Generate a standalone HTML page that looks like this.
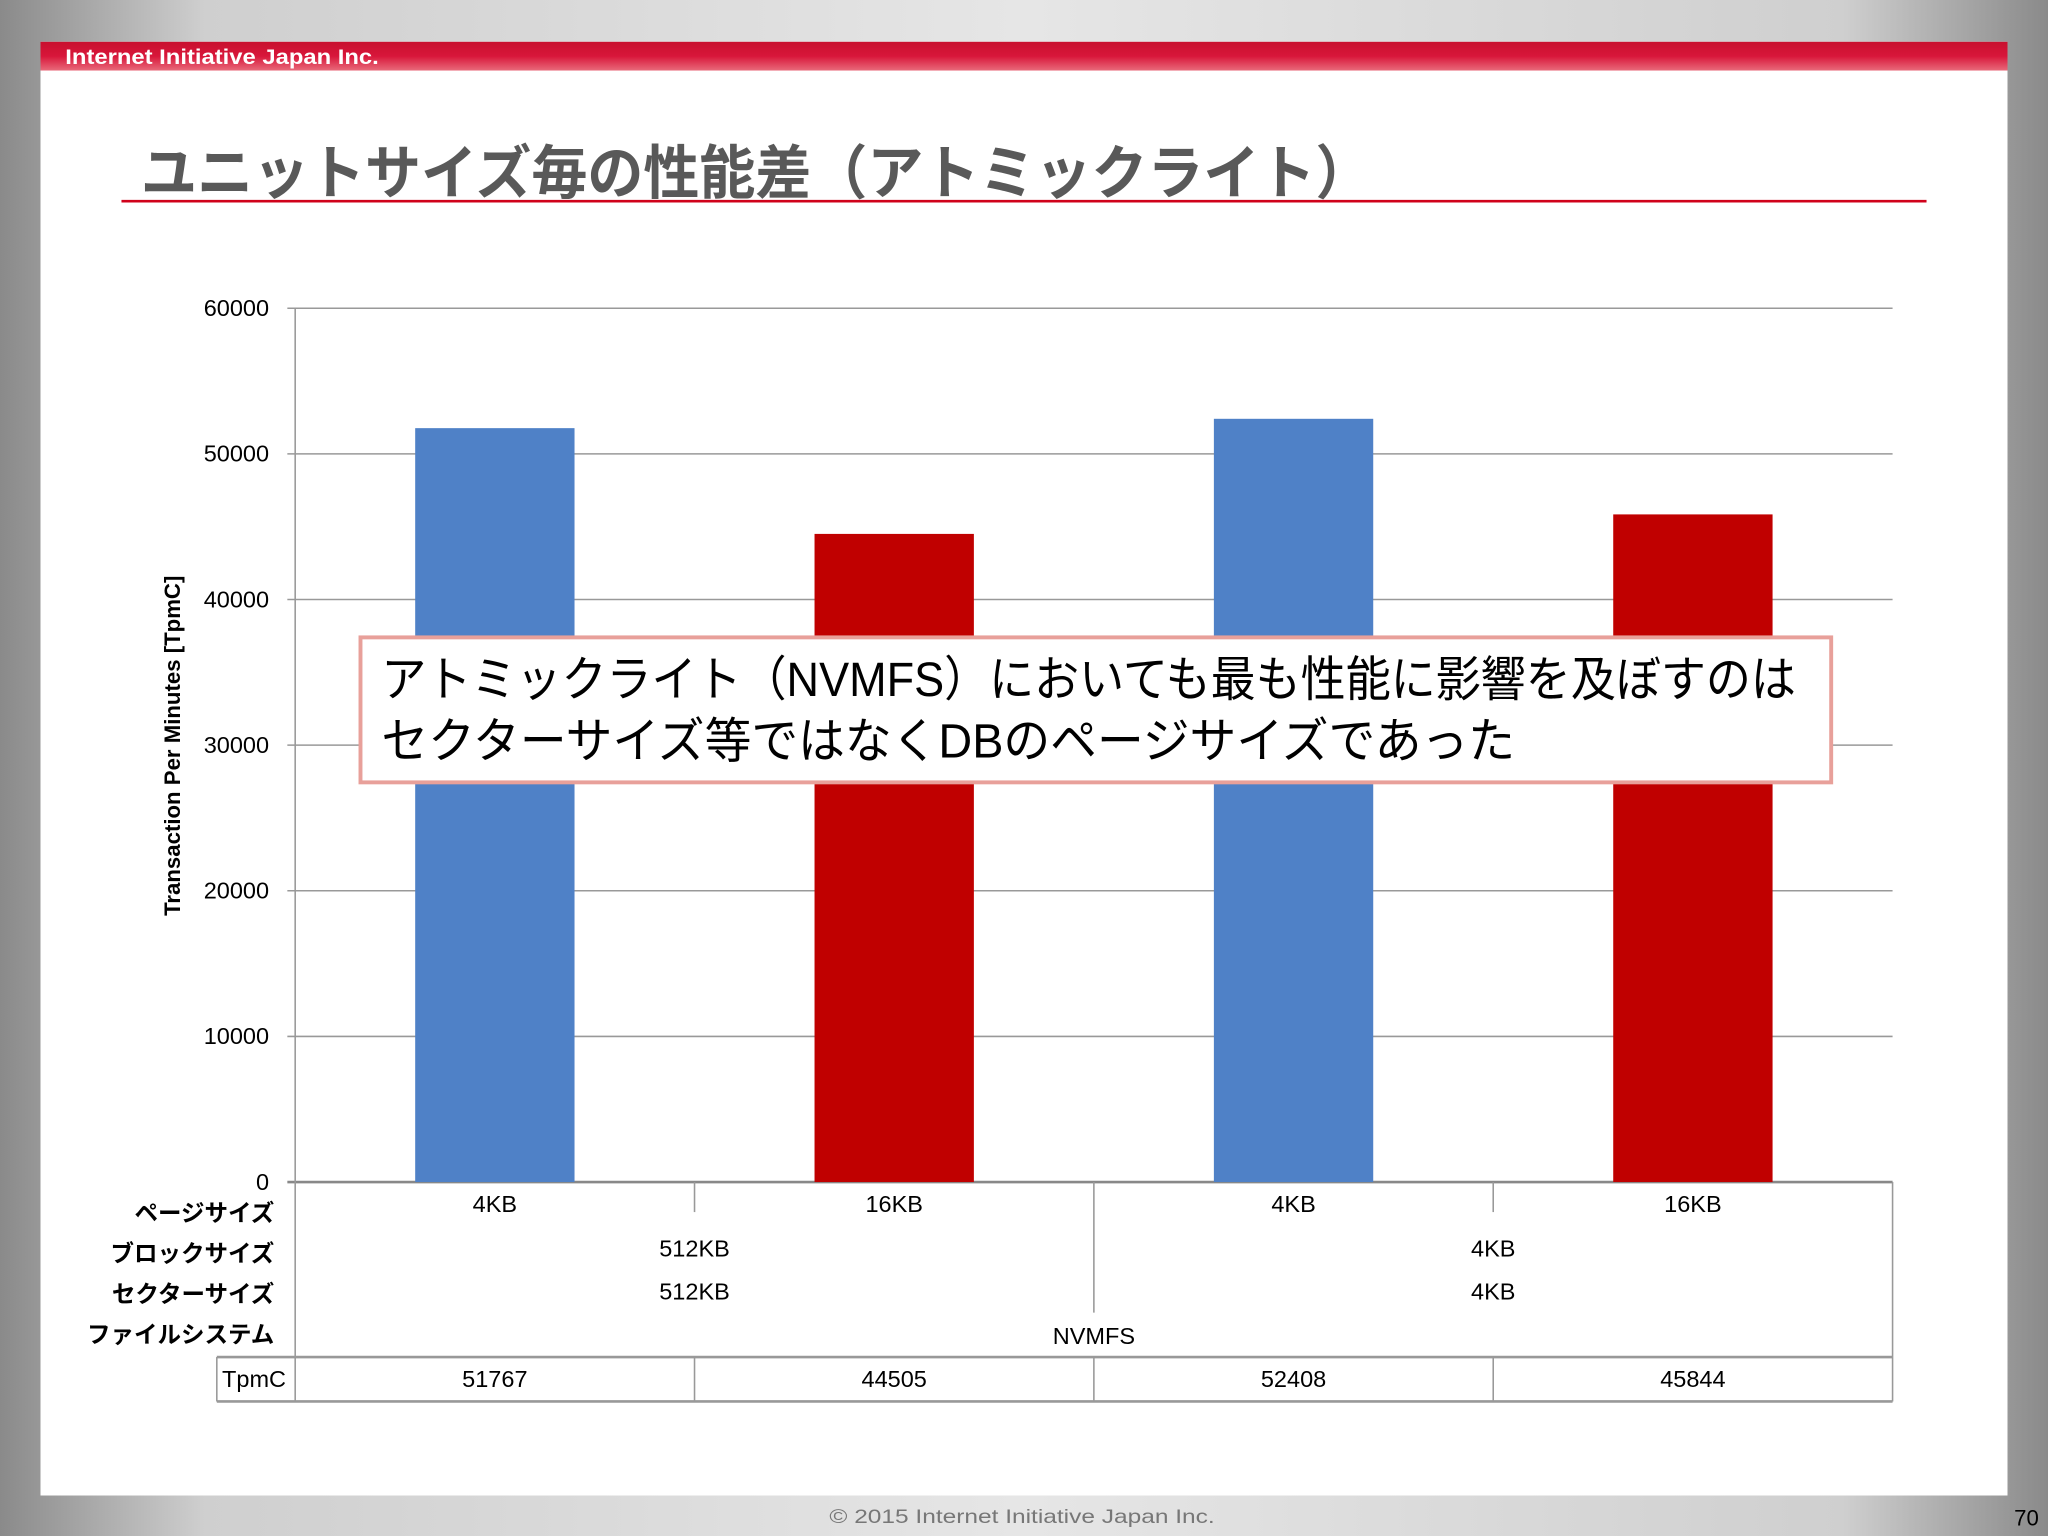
<!DOCTYPE html>
<html><head><meta charset="utf-8"><style>
html,body{margin:0;padding:0;width:2048px;height:1536px;overflow:hidden;background:#bbb}
svg{display:block}
text{font-family:"Liberation Sans","Noto Sans CJK JP",sans-serif}
</style></head><body>
<svg width="2048" height="1536" viewBox="0 0 1568 1176" xmlns="http://www.w3.org/2000/svg">
<defs>
<linearGradient id="bg" x1="0" y1="0" x2="1" y2="0">
<stop offset="0" stop-color="#8a8a8a"/><stop offset="0.1" stop-color="#cfcfcf"/><stop offset="0.5" stop-color="#e6e6e6"/><stop offset="0.9" stop-color="#cfcfcf"/><stop offset="1" stop-color="#8a8a8a"/></linearGradient>
<linearGradient id="hdr" x1="0" y1="0" x2="0" y2="1"><stop offset="0" stop-color="#c8102e"/><stop offset="0.5" stop-color="#d8163a"/><stop offset="1" stop-color="#e86a7a"/></linearGradient>
</defs>
<rect x="0" y="0" width="1568" height="1176" fill="url(#bg)"/>
<rect x="31" y="32" width="1506" height="1113" fill="#ffffff"/>
<rect x="31" y="32" width="1506" height="22" fill="url(#hdr)"/>
<text x="50" y="49" font-size="16" font-weight="bold" fill="#fff" textLength="240" lengthAdjust="spacingAndGlyphs">Internet Initiative Japan Inc.</text>
<text x="108" y="148" font-size="45" font-weight="bold" fill="#595959" textLength="942" lengthAdjust="spacingAndGlyphs">ユニットサイズ毎の性能差（アトミックライト）</text>
<line x1="93" y1="154" x2="1475" y2="154" stroke="#d0021b" stroke-width="2"/>
<g id="chart"></g>
<g>
<rect x="276" y="488" width="1126" height="111" fill="#fff" stroke="#e8a09a" stroke-width="3"/>
<text x="292" y="533" font-size="37" fill="#000" textLength="1083" lengthAdjust="spacingAndGlyphs">アトミックライト（NVMFS）においても最も性能に影響を及ぼすのは</text>
<text x="292" y="580" font-size="37" fill="#000" textLength="868" lengthAdjust="spacingAndGlyphs">セクターサイズ等ではなくDBのページサイズであった</text>
</g>
<text x="635" y="1166" font-size="15" fill="#777" textLength="295" lengthAdjust="spacingAndGlyphs">© 2015  Internet Initiative Japan Inc.</text>
<text x="1561" y="1168" font-size="17" fill="#000" text-anchor="end">70</text>
</svg>
<script>
const categories=["4KB","16KB","4KB","16KB"];
const tpmcValues=[51767,44505,52408,45844];
const yTicks=[0,10000,20000,30000,40000,50000,60000];
const blockSizes=["512KB","4KB"];
const sectorSizes=["512KB","4KB"];
const fileSystem="NVMFS";
const rowLabels=["ページサイズ","ブロックサイズ","セクターサイズ","ファイルシステム"];
const barColors=["#4f81c7","#c00000","#4f81c7","#c00000"];

const NS="http://www.w3.org/2000/svg";
const g=document.getElementById('chart');
const X0=226,X1=1449,Y0=905,Y1=236,YMAX=60000;
const cw=(X1-X0)/categories.length;
const y=v=>Y0-(v/YMAX)*(Y0-Y1);
const xc=i=>X0+cw*(i+0.5);
function mk(tag,attrs,txt){const e=document.createElementNS(NS,tag);for(const k in attrs)e.setAttribute(k,attrs[k]);if(txt!==undefined)e.textContent=txt;g.appendChild(e);return e;}
yTicks.forEach(t=>{
  const l=mk('line',{x1:220,x2:X1,y1:y(t),y2:y(t),stroke:t===0?'#888':'#999','stroke-width':t===0?2:1.2});
  
  
  const tx=mk('text',{x:206,y:y(t)+6,'font-size':18,'text-anchor':'end',fill:'#000'},String(t));
  
  
});
const yt=mk('text',{x:0,y:0,'font-size':17,'font-weight':'bold','text-anchor':'middle',fill:'#000',transform:'translate(138,571) rotate(-90)'},'Transaction Per Minutes [TpmC]');


const bw=122;
tpmcValues.forEach((v,i)=>{
  const r=mk('rect',{x:xc(i)-bw/2,y:y(v),width:bw,height:Y0-y(v),fill:barColors[i]});
  
  
});
const L=(x1,y1,x2,y2,w)=>{const l=mk('line',{x1,y1,x2,y2,stroke:'#999','stroke-width':w||1.2});};
L(X0,Y1,X0,1073);L(X1,Y0,X1,1073);
L(X0+cw,Y0,X0+cw,928);L(X0+cw*3,Y0,X0+cw*3,928);L(X0+cw*2,Y0,X0+cw*2,1005);
L(166,1039,X1,1039,2);L(166,1073,X1,1073,2);L(166,1039,166,1073);
for(let i=1;i<4;i++)L(X0+cw*i,1039,X0+cw*i,1073);
categories.forEach((c,i)=>{const t=mk('text',{x:xc(i),y:928,'font-size':18,'text-anchor':'middle'},c);});
blockSizes.forEach((c,i)=>{const t=mk('text',{x:X0+cw*(2*i+1),y:962,'font-size':18,'text-anchor':'middle'},c);});
sectorSizes.forEach((c,i)=>{const t=mk('text',{x:X0+cw*(2*i+1),y:995,'font-size':18,'text-anchor':'middle'},c);});
{const t=mk('text',{x:X0+cw*2,y:1029,'font-size':18,'text-anchor':'middle'},fileSystem);}
const rowY=[935,966,997,1028];
rowLabels.forEach((c,i)=>{const t=mk('text',{x:210,y:rowY[i],'font-size':18,'font-weight':'bold','text-anchor':'end'},c);});
{const t=mk('text',{x:170,y:1062,'font-size':18},'TpmC');}
tpmcValues.forEach((v,i)=>{const t=mk('text',{x:xc(i),y:1062,'font-size':18,'text-anchor':'middle'},String(v));});
</script>
</body></html>
